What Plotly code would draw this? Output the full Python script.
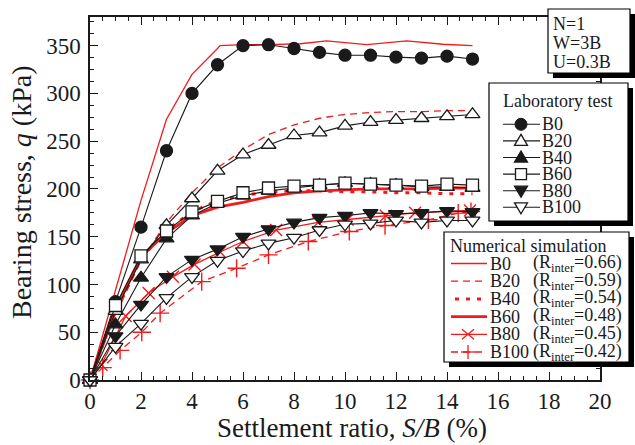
import plotly.graph_objects as go

# ---------------- data ----------------
x_lab = [0, 1, 2, 3, 4, 5, 6, 7, 8, 9, 10, 11, 12, 13, 14, 15]
lab_B0 = [0, 82, 160, 240, 300, 330, 350, 351, 347, 343, 340, 340, 338, 337, 339, 336]
lab_B20 = [0, 72, 126, 162, 190, 219, 236, 246, 256, 259, 266, 270, 272, 274, 276, 278]
lab_B40 = [0, 58, 107, 148, 172, 185, 193, 198, 201, 204, 206, 205, 204, 202, 202, 201]
lab_B60 = [0, 78, 130, 156, 176, 187, 196, 201, 203, 204, 206, 205, 204, 203, 205, 204]
lab_B80 = [0, 46, 79, 108, 126, 137, 150, 158, 165, 170, 172, 175, 174, 175, 177, 176]
lab_B100 = [0, 35, 59, 86, 108, 125, 135, 143, 149, 157, 163, 164, 167, 165, 167, 167]

x_sim_B0 = [0, 1, 2, 3, 4, 5, 5.1, 6, 7, 8.24, 9.28, 10.85, 12.42, 13.84, 15]
sim_B0 = [0, 95, 188, 273, 320, 347, 350, 351, 351, 352, 355, 351, 355, 351.5, 350]
x_sim = [0, 1, 2, 3, 4, 5, 6, 7, 8, 9, 10, 11, 12, 13, 14, 15]
sim_B20 = [0, 68, 125, 165, 196, 222, 241, 257, 267, 274, 278, 280, 281, 281, 282, 282]
sim_B40 = [0, 72, 127, 157, 176, 188, 193, 197, 198, 198, 197, 197, 196, 196, 195, 195]
sim_B60 = [0, 75, 129, 154, 172, 181, 186, 192, 196, 198, 199, 200, 200, 200, 201, 201]
x_sim_B80 = [0, 0.45, 1.4, 2.3, 3.25, 4.1, 5.1, 6.0, 7.3, 8.95, 10.1, 11.6, 12.75, 14.9]
sim_B80 = [0, 16, 67, 91, 108, 121, 134, 145, 157, 165, 168, 172, 175, 177.5]
x_sim_B100 = [0, 0.5, 1.18, 2.03, 2.75, 4.38, 5.75, 7.0, 8.56, 10.17, 11.57, 13.27, 14.44, 14.94]
sim_B100 = [0, 13, 31, 50, 70, 103, 117, 131, 145, 155.5, 161.7, 167.7, 174.7, 176.4]

lab_names = ["B0", "B20", "B40", "B60", "B80", "B100"]
sim_names = ["B0", "B20", "B40", "B60", "B80", "B100"]
r_inter = ["0.66", "0.59", "0.54", "0.48", "0.45", "0.42"]
y_ticks = [0, 50, 100, 150, 200, 250, 300, 350]
info_lines = ["N=1", "W=3B", "U=0.3B"]

# ---------------- styles ----------------
RED = "#f21b1b"
BLK = "#1a1a1a"
FONT = "Liberation Serif"
lab_sym = ["circle", "triangle-up", "triangle-up", "square", "triangle-down", "triangle-down"]
lab_fill = [BLK, "white", BLK, "white", BLK, "white"]
lab_size = [12, 13, 13, 12, 13, 13]
sim_style = [
    dict(width=1.3, dash="solid"),
    dict(width=1.3, dash="7px,5px"),
    dict(width=3, dash="4px,7px"),
    dict(width=2.8, dash="solid"),
    dict(width=1.3, dash="solid"),
    dict(width=1.3, dash="7px,5px"),
]

fig = go.Figure()

sim_x = [x_sim_B0, x_sim, x_sim, x_sim, x_sim_B80, x_sim_B100]
sim_y = [sim_B0, sim_B20, sim_B40, sim_B60, sim_B80, sim_B100]
for i, (xs, ys) in enumerate(zip(sim_x, sim_y)):
    mk = dict(size=1, opacity=0)
    mode = "lines"
    if i == 4:
        mode = "lines+markers"
        mk = dict(symbol="x-thin", size=12, line=dict(color=RED, width=1.4))
    if i == 5:
        mode = "lines+markers"
        mk = dict(symbol="cross-thin", size=13, line=dict(color=RED, width=1.4))
    fig.add_trace(go.Scatter(x=xs, y=ys, mode=mode, line=dict(color=RED, **sim_style[i]),
                             marker=mk, cliponaxis=False, showlegend=False))

lab_y = [lab_B0, lab_B20, lab_B40, lab_B60, lab_B80, lab_B100]
for i, ys in enumerate(lab_y):
    fig.add_trace(go.Scatter(
        x=x_lab, y=ys, mode="lines+markers",
        line=dict(color=BLK, width=1.1),
        marker=dict(symbol=lab_sym[i], size=lab_size[i], color=lab_fill[i],
                    line=dict(color=BLK, width=1.3)),
        cliponaxis=False, showlegend=False))

# ---------------- layout helpers (pixel -> paper) ----------------
W, H = 635, 445
L, R, T, Bm = 90, 35, 17, 65
PW, PH = W - L - R, H - T - Bm
def X(px):
    return (px - L) / PW
def Y(py):
    return (H - Bm - py) / PH

shapes = []
annos = []

def box(x0, y0, x1, y1, sh=5):
    shapes.append(dict(type="rect", xref="paper", yref="paper", x0=X(x0 + sh), x1=X(x1 + sh),
                       y0=Y(y0 + sh), y1=Y(y1 + sh), fillcolor="black", line=dict(width=0), layer="above"))
    shapes.append(dict(type="rect", xref="paper", yref="paper", x0=X(x0), x1=X(x1), y0=Y(y0), y1=Y(y1),
                       fillcolor="white", line=dict(color="black", width=1.2), layer="above"))

def text(px, py, s, size=18, anchor="left"):
    annos.append(dict(x=X(px), y=Y(py), xref="paper", yref="paper", text=s, showarrow=False,
                      xanchor=anchor, yanchor="middle", borderpad=0,
                      font=dict(family=FONT, size=size, color=BLK)))

def seg(x0, y0, x1, y1, color, width, dash="solid"):
    shapes.append(dict(type="line", xref="paper", yref="paper", x0=X(x0), y0=Y(y0), x1=X(x1), y1=Y(y1),
                       line=dict(color=color, width=width, dash=dash), layer="above"))

def path(pts, fill, color, width=1.2, close=True):
    d = "M " + " L ".join(f"{X(a):.5f},{Y(b):.5f}" for a, b in pts) + (" Z" if close else "")
    shapes.append(dict(type="path", xref="paper", yref="paper", path=d, fillcolor=fill,
                       line=dict(color=color, width=width), layer="above"))

def symbol(kind, fill, cx, cy):
    if kind == "circle":
        shapes.append(dict(type="circle", xref="paper", yref="paper", x0=X(cx - 6), x1=X(cx + 6),
                           y0=Y(cy + 6), y1=Y(cy - 6), fillcolor=fill, line=dict(color=BLK, width=1), layer="above"))
    elif kind == "triangle-up":
        path([(cx, cy - 6.5), (cx - 6.5, cy + 4.5), (cx + 6.5, cy + 4.5)], fill, BLK, 1.3)
    elif kind == "triangle-down":
        path([(cx, cy + 6.5), (cx - 6.5, cy - 4.5), (cx + 6.5, cy - 4.5)], fill, BLK, 1.3)
    elif kind == "square":
        path([(cx - 5.5, cy - 5.5), (cx + 5.5, cy - 5.5), (cx + 5.5, cy + 5.5), (cx - 5.5, cy + 5.5)], fill, BLK, 1.3)

# info box
box(548, 9, 630, 73)
for i, s in enumerate(info_lines):
    text(552, 24 + 19.2 * i, s, 18)

# laboratory legend
box(489, 83, 628, 221)
text(502, 101, "Laboratory test", 18)
for i, nm in enumerate(lab_names):
    cy = 124.3 + 16.6 * i
    seg(503, cy, 540, cy, BLK, 1.1)
    symbol(lab_sym[i], lab_fill[i], 521, cy)
    text(541, cy, nm, 18)

# numerical legend
box(444, 232, 629, 362)
text(449, 246, "Numerical simulation", 18)
for i, nm in enumerate(sim_names):
    cy = 263.5 + 17.7 * i
    st = sim_style[i]
    seg(451 if i != 2 else 455, cy, 487, cy, RED, st["width"], st["dash"])
    if i == 4:
        seg(462, cy - 5, 474, cy + 5, RED, 1.3)
        seg(462, cy + 5, 474, cy - 5, RED, 1.3)
    if i == 5:
        seg(468, cy - 7, 468, cy + 7, RED, 1.3)
        seg(461, cy, 475, cy, RED, 1.3)
    text(489, cy, nm, 18)
    text(532, cy, f"(R<sub>inter</sub>=" + r_inter[i] + ")", 18)

# axis titles
annos.append(dict(x=X(352), y=Y(428), xref="paper", yref="paper", showarrow=False,
                  text="Settlement ratio, <i>S/B</i> (%)", font=dict(family=FONT, size=27, color=BLK),
                  xanchor="center", yanchor="middle", borderpad=0))
annos.append(dict(x=X(21), y=Y(192), xref="paper", yref="paper", showarrow=False, textangle=-90,
                  text="Bearing stress, <i>q</i> (kPa)", font=dict(family=FONT, size=28, color=BLK),
                  xanchor="center", yanchor="middle", borderpad=0))

axis_common = dict(showline=True, linecolor=BLK, linewidth=1.5, mirror="allticks", ticks="inside",
                   tickcolor=BLK, tickwidth=1.2, showgrid=False, zeroline=False,
                   tickfont=dict(family=FONT, size=23, color=BLK))
fig.update_layout(
    width=W, height=H, margin=dict(l=L, r=R, t=T, b=Bm, autoexpand=False),
    paper_bgcolor="white", plot_bgcolor="white", showlegend=False,
    xaxis=dict(range=[0, 20], tickmode="linear", tick0=0, dtick=2, ticklen=8,
               minor=dict(dtick=0.5, tick0=0, ticklen=4, ticks="inside", tickcolor=BLK), **axis_common),
    yaxis=dict(range=[0, 380], tickmode="array", tickvals=y_ticks, ticklen=8, ticklabelstandoff=3,
               minor=dict(dtick=12.5, tick0=0, ticklen=4, ticks="inside", tickcolor=BLK), **axis_common),
    shapes=shapes, annotations=annos,
)
fig.write_html("out.html")
